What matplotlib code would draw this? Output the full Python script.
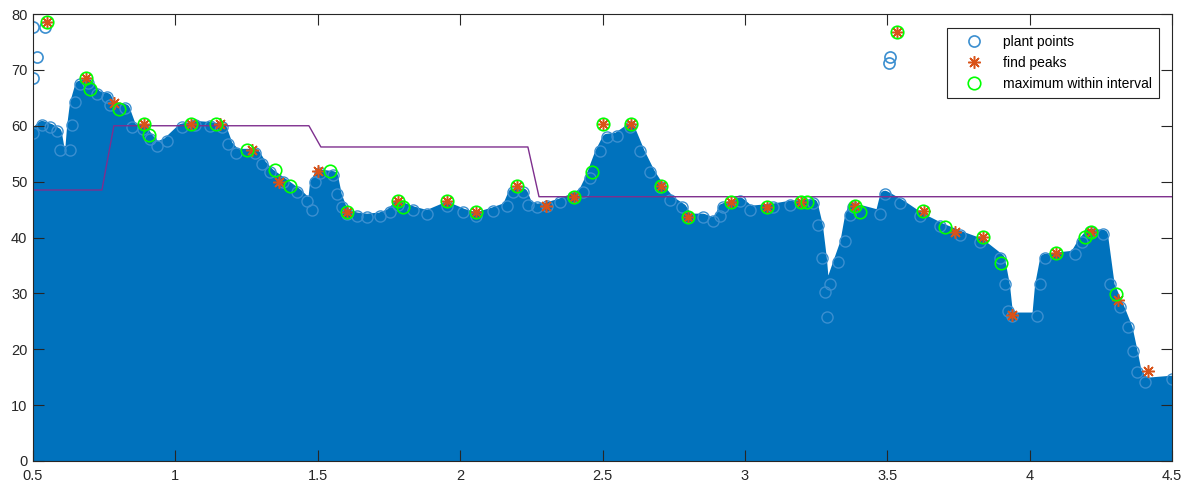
import numpy as np
import matplotlib.pyplot as plt

plt.rcParams['font.family'] = ['Liberation Sans', 'DejaVu Sans']

# upper edge of the plant point cloud
plant_x = [0.500, 0.532, 0.560, 0.584, 0.595, 0.630, 0.637, 0.647, 0.665, 0.693,
           0.725, 0.760, 0.770, 0.823, 0.848, 0.886, 0.911, 0.935, 0.971, 1.023,
           1.069, 1.122, 1.164, 1.185, 1.213, 1.280, 1.304, 1.332, 1.378, 1.427,
           1.462, 1.480, 1.490, 1.508, 1.554, 1.568, 1.585, 1.603, 1.638, 1.673,
           1.719, 1.754, 1.782, 1.835, 1.884, 1.954, 2.010, 2.056, 2.115, 2.165,
           2.186, 2.221, 2.238, 2.270, 2.305, 2.351, 2.396, 2.432, 2.456, 2.491,
           2.516, 2.551, 2.597, 2.632, 2.667, 2.702, 2.737, 2.779, 2.800, 2.853,
           2.888, 2.913, 2.923, 2.983, 3.018, 3.099, 3.159, 3.239, 3.257, 3.271,
           3.281, 3.288, 3.299, 3.327, 3.352, 3.369, 3.380, 3.475, 3.492, 3.545,
           3.615, 3.685, 3.756, 3.826, 3.896, 3.914, 3.924, 3.938, 4.026, 4.036,
           4.054, 4.159, 4.184, 4.212, 4.258, 4.282, 4.317, 4.345, 4.363, 4.377,
           4.405, 4.500]
plant_top = [59.5, 61.0, 60.5, 59.8, 56.5, 56.5, 61.0, 65.0, 68.2, 68.5,
             66.4, 66.0, 64.6, 64.0, 60.5, 60.2, 58.5, 57.2, 58.0, 60.5,
             61.0, 60.8, 60.5, 57.5, 56.0, 56.0, 54.0, 52.5, 50.8, 49.0,
             47.3, 45.8, 50.8, 52.3, 52.0, 48.5, 46.2, 45.0, 44.6, 44.4,
             44.6, 45.3, 46.7, 45.7, 45.0, 46.5, 45.3, 44.6, 45.5, 46.4,
             48.9, 48.9, 46.7, 46.2, 46.4, 47.1, 48.0, 49.0, 51.5, 56.2,
             58.7, 58.9, 60.5, 56.2, 52.6, 49.8, 47.6, 46.2, 44.4, 44.4,
             43.7, 44.6, 46.2, 47.3, 45.8, 46.2, 46.7, 47.0, 43.1, 37.2,
             31.1, 26.5, 32.4, 36.5, 40.1, 44.9, 46.3, 45.0, 48.5, 47.0,
             44.6, 42.8, 41.3, 40.0, 37.2, 32.4, 27.6, 26.7, 26.7, 32.4,
             37.2, 37.8, 40.0, 41.7, 41.5, 32.4, 28.3, 24.7, 20.4, 16.8,
             15.0, 15.4]
# isolated plant points above the cloud
stray_x = [0.500, 0.514, 0.500, 0.542, 3.506, 3.510]
stray_y = [77.7, 72.3, 68.5, 77.7, 71.2, 72.3]

# threshold line
thr_x = [0.50, 0.742, 0.784, 1.469, 1.511, 2.238, 2.277, 4.50]
thr_y = [48.5, 48.5, 60.0, 60.0, 56.2, 56.2, 47.3, 47.3]

peak_x = [0.549, 0.686, 0.785, 0.890, 1.055, 1.157, 1.269, 1.364, 1.501, 1.603,
          1.782, 1.954, 2.056, 2.200, 2.302, 2.400, 2.500, 2.600, 2.705, 2.800,
          2.951, 3.078, 3.197, 3.385, 3.534, 3.629, 3.738, 3.836, 3.938, 4.093,
          4.216, 4.310, 4.416]
peak_y = [78.6, 68.6, 64.0, 60.3, 60.3, 60.3, 55.7, 50.0, 51.9, 44.6,
          46.6, 46.5, 44.6, 49.2, 45.6, 47.3, 60.3, 60.3, 49.2, 43.7,
          46.4, 45.5, 46.4, 45.6, 76.8, 44.7, 41.0, 40.1, 26.1, 37.2,
          41.0, 28.8, 16.1]

max_x = [0.549, 0.686, 0.700, 0.802, 0.890, 0.907, 1.055, 1.143, 1.252, 1.350,
         1.403, 1.543, 1.603, 1.782, 1.800, 1.954, 2.056, 2.200, 2.400, 2.463,
         2.500, 2.600, 2.705, 2.800, 2.951, 3.078, 3.197, 3.218, 3.385, 3.404,
         3.534, 3.625, 3.703, 3.836, 3.900, 4.093, 4.195, 4.216, 4.303]
max_y = [78.6, 68.6, 66.6, 63.0, 60.3, 58.3, 60.3, 60.3, 55.7, 52.0,
         49.2, 51.9, 44.6, 46.6, 45.5, 46.5, 44.6, 49.2, 47.3, 51.8,
         60.3, 60.3, 49.2, 43.7, 46.4, 45.5, 46.4, 46.4, 45.6, 44.5,
         76.8, 44.7, 41.9, 40.1, 35.4, 37.2, 40.1, 41.0, 29.9]

blue = '#0072BD'
edge = '#3b8fd0'

fig = plt.figure(figsize=(11.92, 4.91), dpi=100)
ax = fig.add_axes([33/1192, 30/491, 1139/1192, 447/491])

px = np.array(plant_x)
py = np.array(plant_top) - 1.0
ax.fill_between(px, 0, py, color=blue, lw=0, zorder=1)
ax.plot(px, py, '-', color=blue, lw=7, solid_joinstyle='round', zorder=1)
ax.plot(px, py + 0.2, 'o', color=edge, mfc='none', ms=8, mew=1, zorder=1)
ax.plot(stray_x, stray_y, 'o', color=edge, mfc='none', ms=8, mew=1.2, zorder=1)
ax.plot([], [], 'o', color=edge, mfc='none', ms=8, mew=1.2, label='plant points')

ax.plot(thr_x, thr_y, '-', color='#7E2F8E', lw=1, zorder=2)

ax.plot(peak_x, peak_y, ls='none', marker=(8, 2, 0), color='#D95319', ms=9, mew=1.1,
        zorder=3, label='find peaks')
ax.plot(max_x, max_y, 'o', color='#00FF00', mfc='none', ms=9, mew=1.2,
        zorder=4, label='maximum within interval')

ax.set_xlim(0.5, 4.5)
ax.set_ylim(0, 80)
ax.set_xticks([0.5, 1, 1.5, 2, 2.5, 3, 3.5, 4, 4.5])
ax.set_xticklabels(['0.5', '1', '1.5', '2', '2.5', '3', '3.5', '4', '4.5'])
ax.set_yticks(range(0, 81, 10))
ax.tick_params(direction='in', length=8, width=0.8, colors='#262626',
               labelsize=10.5, top=True, right=True)
ax.tick_params(axis='x', pad=6)
ax.tick_params(axis='y', pad=4)
for s in ax.spines.values():
    s.set_color('#262626')
    s.set_linewidth(0.8)

leg = ax.legend(loc='upper right', bbox_to_anchor=(0.9886, 0.9687), borderaxespad=0,
                fontsize=10, fancybox=False, framealpha=1, edgecolor='#262626',
                handlelength=2.9, handletextpad=0.65, labelspacing=0.5, borderpad=0.5)
leg.get_frame().set_linewidth(0.8)

fig.savefig('out.png', dpi=100)
